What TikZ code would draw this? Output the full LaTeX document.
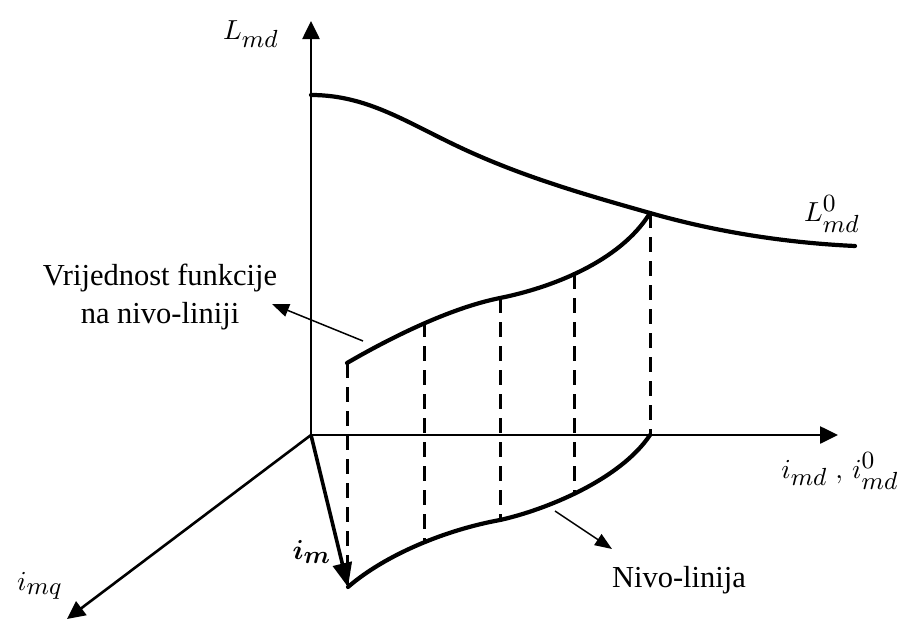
\documentclass[tikz,border=0pt]{standalone}
\usepackage{fontspec}
\setmainfont{Liberation Serif}
\usepackage{graphicx}
\usepackage{bm}
\usetikzlibrary{arrows.meta}
\DeclareMathSizes{10}{10}{9}{7}
\newcommand{\bigmath}[1]{\scalebox{2.75}{$#1$}}
\begin{document}
\begin{tikzpicture}[x=1pt,y=-1pt,
  axis/.style={line width=2.6pt,-{Triangle[length=18pt,width=17pt]}},
  vec/.style={line width=3.6pt,-{Triangle[length=24pt,width=19pt]}},
  curve/.style={line width=4.2pt, line join=round, line cap=round},
  guide/.style={line width=3pt, dash pattern=on 15pt off 9pt},
  pointer/.style={line width=1.5pt,-{Triangle[length=17pt,width=13pt]}},
  txt/.style={font=\fontsize{30.5}{37}\selectfont, inner sep=0pt},
  mlab/.style={font=\fontsize{10}{12}\selectfont, inner sep=0pt}]
\useasboundingbox (0,0) rectangle (900,621);
% axes
\coordinate (O) at (311,435);
\coordinate (Ytip) at (311,21);
\coordinate (Xtip) at (838,435);
\coordinate (Qtip) at (67,619);
\coordinate (Im) at (348,587);
\draw[axis] (O) -- (Ytip);
\draw[axis] (O) -- (Xtip);
\draw[axis] (O) -- (Qtip);
% points
\coordinate (M1) at (347,363);
\coordinate (M2) at (424,322);
\coordinate (M3) at (500,298);
\coordinate (M4) at (574,274);
\coordinate (M5) at (650,213);
\coordinate (B1) at (347,585);
\coordinate (B2) at (424,543);
\coordinate (B3) at (500,520);
\coordinate (B4) at (574,495);
\coordinate (B5) at (650,435);
% dashed guides
\foreach \i in {1,...,5} \draw[guide] (M\i) -- (B\i);
% top curve
\coordinate (T0) at (311,95);
\coordinate (T1) at (470,152);
\coordinate (T3) at (855,246);
\draw[curve] (T0) .. controls (370,95) and (410,125) .. (T1)
  .. controls (530,179) and (590,196) .. (M5)
  .. controls (720,233) and (790,243) .. (T3);
% middle curve
\draw[curve] (M1) .. controls (390,338) and (450,308) .. (M3)
  .. controls (550,288) and (620,262) .. (M5);
% bottom curve
\draw[curve] (Im) .. controls (385,555) and (445,530) .. (B3)
  .. controls (545,510) and (620,480) .. (B5);
% i_m vector
\draw[vec] (O) -- (Im);
% labels
\node[mlab] (lmd) at (251,34) {\bigmath{L_{md}}};
\node[mlab] (lmd0) at (832,214) {\bigmath{L^0_{md}}};
\node[mlab] (imd) at (840,471) {\bigmath{i_{md}\;,\,i^0_{md}}};
\node[mlab] (imq) at (40,586) {\bigmath{i_{mq}}};
\node[mlab] (im) at (312,552) {\bigmath{\bm{i_m}}};
\node[txt, anchor=base] (t1) at (160,285) {Vrijednost funkcije};
\node[txt, anchor=base] (t2) at (160,323) {na nivo-liniji};
\node[txt, anchor=base] (t3) at (679,587) {Nivo-linija};
\coordinate (p1s) at (363,341);
\coordinate (p1e) at (272,304);
\coordinate (p2s) at (555,511);
\coordinate (p2e) at (612,549);
\draw[pointer] (p1s) -- (p1e);
\draw[pointer] (p2s) -- (p2e);
\end{tikzpicture}
\end{document}
